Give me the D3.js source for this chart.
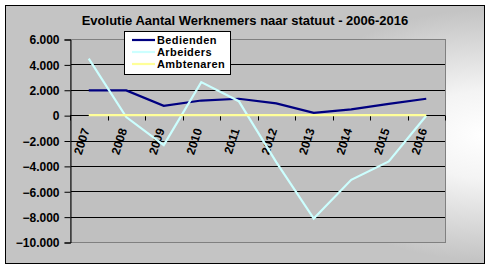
<!DOCTYPE html>
<html>
<head>
<meta charset="utf-8">
<script src="https://cdn.jsdelivr.net/npm/d3@7"></script>
<style>
  body { margin: 0; background: #fff; }
  svg { display: block; font-family: "Liberation Sans", Arial, sans-serif; }
</style>
</head>
<body>
<svg id="chart" width="490" height="268"></svg>
<script>
// data
const years = ["2007", "2008", "2009", "2010", "2011", "2012", "2013", "2014", "2015", "2016"];
const bedienden = [1950, 1950, 730, 1150, 1290, 920, 180, 450, 890, 1290];
const arbeiders = [4450, -150, -2360, 2600, 1100, -3700, -8150, -5100, -3650, -50];
const ambtenaren = [0, 0, 0, 0, 0, 0, 0, 0, 0, 0];
const yTicks = [6000, 4000, 2000, 0, -2000, -4000, -6000, -8000, -10000];
const seriesNames = ["Bedienden", "Arbeiders", "Ambtenaren"];
const seriesColors = ["#000080", "#ccffff", "#ffff99"];

const svg = d3.select("#chart");

// outer chart area with a soft light spot on the right
const defs = svg.append("defs");
const grad = defs.append("radialGradient")
    .attr("id", "bg")
    .attr("gradientUnits", "userSpaceOnUse")
    .attr("cx", 484).attr("cy", 135).attr("r", 125)
    .attr("gradientTransform", "translate(484,135) scale(1.6,1) translate(-484,-135)");
grad.append("stop").attr("offset", "0").attr("stop-color", "#ffffff");
grad.append("stop").attr("offset", "0.35").attr("stop-color", "#f4f4f4");
grad.append("stop").attr("offset", "1").attr("stop-color", "#c4c4c4");

svg.append("rect")
    .attr("x", 5.5).attr("y", 5.5)
    .attr("width", 479).attr("height", 258)
    .attr("fill", "url(#bg)")
    .attr("stroke", "#000");

svg.append("text")
    .attr("x", 245).attr("y", 25)
    .attr("text-anchor", "middle")
    .style("font-size", "13px").style("font-weight", "bold")
    .text("Evolutie Aantal Werknemers naar statuut - 2006-2016");

// plot area
const pLeft = 70, pRight = 445, pTop = 39, pBottom = 242;

const x = d3.scaleBand().domain(years).range([pLeft, pRight]);
const y = d3.scaleLinear().domain([-10000, 6000]).range([pBottom, pTop]);

svg.append("rect")
    .attr("x", pLeft).attr("y", pTop)
    .attr("width", pRight - pLeft).attr("height", pBottom - pTop)
    .attr("fill", "#c0c0c0");

// gridlines
svg.append("g")
    .selectAll("line")
    .data(yTicks.filter(d => d != 6000 && d != -10000 && d != 0))
    .enter()
    .append("line")
    .attr("x1", pLeft).attr("x2", pRight)
    .attr("y1", d => Math.round(y(d)) + 0.5)
    .attr("y2", d => Math.round(y(d)) + 0.5)
    .attr("stroke", "#000");

// plot border (grey)
svg.append("rect")
    .attr("x", pLeft + 0.5).attr("y", pTop + 0.5)
    .attr("width", pRight - pLeft).attr("height", pBottom - pTop)
    .attr("fill", "none")
    .attr("stroke", "#808080");

// y axis
const fmt = d => d3.format(",")(d).replace(/,/g, ".");
const yAxis = d3.axisLeft(y)
    .tickValues(yTicks)
    .tickSize(6)
    .tickPadding(5)
    .tickFormat(fmt);
const gy = svg.append("g")
    .attr("transform", "translate(" + (pLeft + 0.5) + ",0.5)")
    .call(yAxis);
gy.select(".domain").attr("stroke", "#000");
gy.selectAll("text")
    .attr("fill", "#000")
    .style("font-size", "12px").style("font-weight", "bold")
    .style("font-family", "Liberation Sans, Arial, sans-serif")
    .attr("dy", "0.36em");

// x axis at zero, ticks between categories
const zeroY = Math.round(y(0)) + 0.5;
const gx = svg.append("g");
gx.append("line")
    .attr("x1", pLeft).attr("x2", pRight)
    .attr("y1", zeroY).attr("y2", zeroY)
    .attr("stroke", "#000");
gx.selectAll(".tick")
    .data(d3.range(years.length + 1))
    .enter()
    .append("line")
    .attr("x1", i => Math.round(pLeft + i * x.bandwidth()) + 0.5)
    .attr("x2", i => Math.round(pLeft + i * x.bandwidth()) + 0.5)
    .attr("y1", zeroY).attr("y2", zeroY + 5)
    .attr("stroke", "#000");
gx.selectAll("text")
    .data(years)
    .enter()
    .append("text")
    .attr("transform", d => "translate(" + (x(d) + x.bandwidth() / 2 + 1) + ",130) rotate(-72)")
    .attr("text-anchor", "end")
    .style("font-size", "12px").style("font-weight", "bold")
    .text(d => d);

// series lines
const cx = (d, i) => x(years[i]) + x.bandwidth() / 2;
const line = d3.line().x(cx).y(d => y(d));
const allSeries = [bedienden, arbeiders, ambtenaren];
allSeries.forEach((s, k) => {
    svg.append("path")
        .datum(s)
        .attr("d", line)
        .attr("fill", "none")
        .attr("stroke", seriesColors[k])
        .attr("stroke-width", 2.2);
});

// legend
const lg = svg.append("g");
lg.append("rect")
    .attr("x", 124.5).attr("y", 31.5)
    .attr("width", 106).attr("height", 43)
    .attr("fill", "#fff")
    .attr("stroke", "#000");
seriesNames.forEach((name, k) => {
    const ly = 40 + k * 12;
    lg.append("line")
        .attr("x1", 132).attr("x2", 155)
        .attr("y1", ly).attr("y2", ly)
        .attr("stroke", seriesColors[k])
        .attr("stroke-width", 2.2);
    lg.append("text")
        .attr("x", 157).attr("y", ly + 4)
        .style("font-size", "11px").style("font-weight", "bold")
        .style("letter-spacing", "0.4px")
        .text(name);
});
</script>
</body>
</html>
